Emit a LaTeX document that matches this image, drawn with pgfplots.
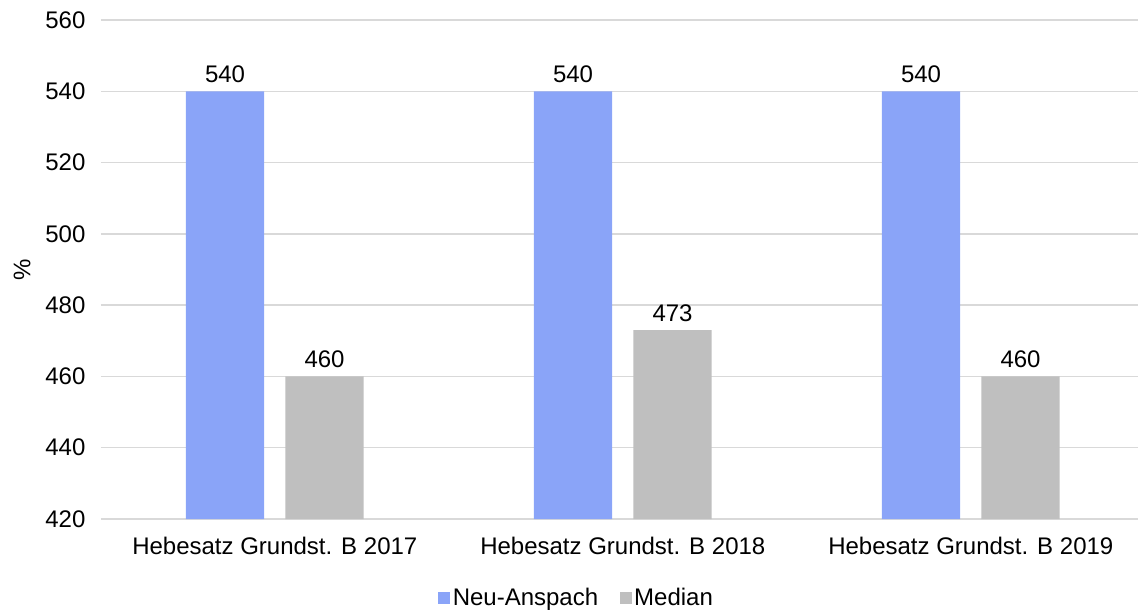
\documentclass[border=0pt]{standalone}
\usepackage{pgfplots}
\pgfplotsset{compat=1.18}
\usepackage{fontspec}
\setmainfont{Liberation Sans}
\definecolor{nablue}{RGB}{138,164,248}
\definecolor{medgray}{RGB}{191,191,191}
\definecolor{gridgray}{RGB}{217,217,217}
\begin{document}
\begin{tikzpicture}
\useasboundingbox (-75.6pt,-72pt) rectangle (777.9pt,389.25pt);
\begin{axis}[
    scale only axis,
    width=783pt, height=374.25pt,
    font=\fontsize{18}{21}\selectfont,
    /pgf/number format/assume math mode=true,
    ybar, bar width=58.65pt, ybar=16pt,
    xmin=-0.5, xmax=2.5,
    ymin=420, ymax=560,
    ytick={420,440,...,560},
    xtick=data,
    xticklabels={Hebesatz Grundst. B 2017,Hebesatz Grundst. B 2018,Hebesatz Grundst. B 2019},
    axis line style={draw=none},
    major tick style={draw=none},
    ymajorgrids, grid style={gridgray, line width=1pt},
    yticklabel style={xshift=-8pt},
    xticklabel style={yshift=-6pt},
    ylabel={\%},
    ylabel style={at={(axis description cs:-0.0754,0.5)}, anchor=center},
    nodes near coords,
    nodes near coords style={black, font=\fontsize{18}{21}\selectfont, yshift=3pt},
    legend style={at={(0.456,-0.158)}, anchor=center, draw=none,
        legend columns=-1, font=\fontsize{18}{21}\selectfont,
        /tikz/every even column/.append style={column sep=14pt}},
    legend image code/.code={\fill[#1] (0pt,-4.5pt) rectangle (9pt,4.5pt);},
]
\addplot[fill=nablue, draw=none] coordinates {(0,540) (1,540) (2,540)};
\addlegendentry{Neu-Anspach}
\addplot[fill=medgray, draw=none] coordinates {(0,460) (1,473) (2,460)};
\addlegendentry{Median}
\end{axis}
\end{tikzpicture}
\end{document}
